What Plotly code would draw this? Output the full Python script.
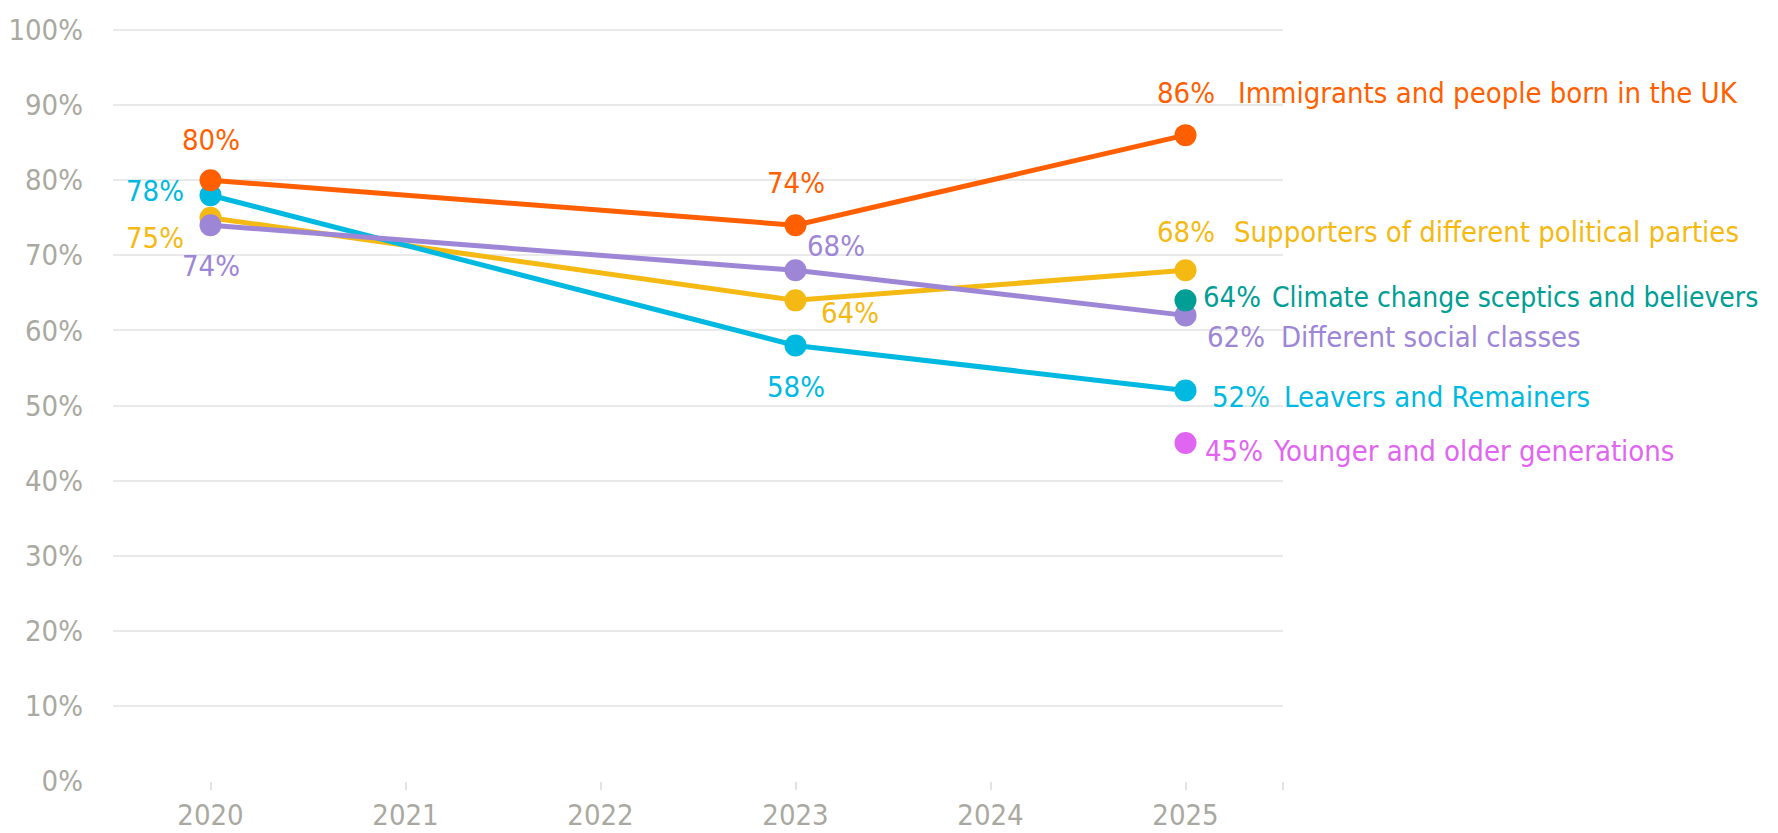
import plotly.graph_objects as go

years = [2020, 2023, 2025]
x_ticks = [2020, 2021, 2022, 2023, 2024, 2025]
y_ticks = [0, 10, 20, 30, 40, 50, 60, 70, 80, 90, 100]
y_tick_labels = [f"{v}%" for v in y_ticks]

immigrants = [80, 74, 86]
leavers = [78, 58, 52]
parties = [75, 64, 68]
classes = [74, 68, 62]
climate_year = [2025]
climate = [64]
generations_year = [2025]
generations = [45]

names = {
    "immigrants": "Immigrants and people born in the UK",
    "parties": "Supporters of different political parties",
    "climate": "Climate change sceptics and believers",
    "classes": "Different social classes",
    "leavers": "Leavers and Remainers",
    "generations": "Younger and older generations",
}

C_ORANGE = "#ff5f00"
C_CYAN = "#00b9e0"
C_YELLOW = "#f5b914"
C_PURPLE = "#9e86d6"
C_TEAL = "#009e94"
C_MAGENTA = "#e066f2"
GRAY = "#a9a9a1"

FONT = "Liberation Sans Narrow, DejaVu Sans Condensed, Roboto Condensed, Arial Narrow, sans-serif"
FS = 29

X_MIN, X_MAX = 2019.5, 2025.5

fig = go.Figure()

def add_line(xs, ys, color, name, mode="lines+markers"):
    fig.add_trace(go.Scatter(
        x=xs, y=ys, mode=mode, name=name,
        line=dict(color=color, width=5),
        marker=dict(color=color, size=22),
        cliponaxis=False, showlegend=False,
    ))

add_line(years, parties, C_YELLOW, names["parties"])
add_line(years, leavers, C_CYAN, names["leavers"])
add_line(years, classes, C_PURPLE, names["classes"])
add_line(climate_year, climate, C_TEAL, names["climate"], mode="markers")
add_line(generations_year, generations, C_MAGENTA, names["generations"], mode="markers")
add_line(years, immigrants, C_ORANGE, names["immigrants"])

ann = []

def lab(x, y, text, color, xanchor="center", xshift=0, yshift=0, size=FS):
    ann.append(dict(
        x=x, y=y, xref="x", yref="y", text=text, showarrow=False,
        xanchor=xanchor, yanchor="middle", xshift=xshift, yshift=yshift,
        font=dict(family=FONT, size=size, color=color),
    ))

# 2020
lab(years[0], immigrants[0], f"{immigrants[0]}%", C_ORANGE, yshift=40)
lab(years[0], leavers[0], f"{leavers[0]}%", C_CYAN, xanchor="right", xshift=-25, yshift=4)
lab(years[0], parties[0], f"{parties[0]}%", C_YELLOW, xanchor="right", xshift=-25, yshift=-20)
lab(years[0], classes[0], f"{classes[0]}%", C_PURPLE, yshift=-41)
# 2023
lab(years[1], immigrants[1], f"{immigrants[1]}%", C_ORANGE, yshift=42)
lab(years[1], classes[1], f"{classes[1]}%", C_PURPLE, xanchor="left", xshift=9, yshift=24)
lab(years[1], parties[1], f"{parties[1]}%", C_YELLOW, xanchor="left", xshift=23, yshift=-13)
lab(years[1], leavers[1], f"{leavers[1]}%", C_CYAN, yshift=-42)
# 2025
lab(years[2], immigrants[2], f"{immigrants[2]}%", C_ORANGE, yshift=42)
lab(years[2], immigrants[2], names["immigrants"], C_ORANGE, xanchor="left", xshift=50, yshift=42)
lab(years[2], parties[2], f"{parties[2]}%", C_YELLOW, yshift=38)
lab(years[2], parties[2], names["parties"], C_YELLOW, xanchor="left", xshift=46, yshift=38)
lab(climate_year[0], climate[0], f"{climate[0]}%", C_TEAL, xanchor="left", xshift=15, yshift=3)
lab(climate_year[0], climate[0], names["climate"], C_TEAL, xanchor="left", xshift=84, yshift=3, size=28)
lab(years[2], classes[2], f"{classes[2]}%", C_PURPLE, xanchor="left", xshift=19, yshift=-22)
lab(years[2], classes[2], names["classes"], C_PURPLE, xanchor="left", xshift=93, yshift=-22)
lab(years[2], leavers[2], f"{leavers[2]}%", C_CYAN, xanchor="left", xshift=24, yshift=-7)
lab(years[2], leavers[2], names["leavers"], C_CYAN, xanchor="left", xshift=96, yshift=-7)
lab(generations_year[0], generations[0], f"{generations[0]}%", C_MAGENTA, xanchor="left", xshift=17, yshift=-8)
lab(generations_year[0], generations[0], names["generations"], C_MAGENTA, xanchor="left", xshift=85, yshift=-8)

# the page's default 8px body margin offsets the figure; compensate in size/margins
fig.update_layout(
    width=1770, height=825,
    margin=dict(l=105, r=495, t=19, b=52),
    paper_bgcolor="white", plot_bgcolor="white",
    font=dict(family=FONT, size=FS, color=GRAY),
    annotations=ann,
    showlegend=False,
)
fig.update_xaxes(
    range=[X_MIN, X_MAX], tickmode="array", tickvals=x_ticks + [X_MAX],
    ticktext=[str(v) for v in x_ticks] + [""], automargin=False,
    showgrid=False, zeroline=False, showline=False,
    ticks="outside", ticklen=8, tickcolor="#e3e3e3", tickwidth=1.5,
    tickfont=dict(family=FONT, size=FS, color=GRAY),
)
fig.update_yaxes(
    range=[0, 100.4], tickmode="array", tickvals=y_ticks, ticktext=y_tick_labels,
    showgrid=True, gridcolor="#e9e9e9", gridwidth=2, zeroline=False, automargin=False,
    showline=False, ticks="", ticklabelstandoff=29,
    tickfont=dict(family=FONT, size=FS, color=GRAY),
)

fig.write_html("out.html")
